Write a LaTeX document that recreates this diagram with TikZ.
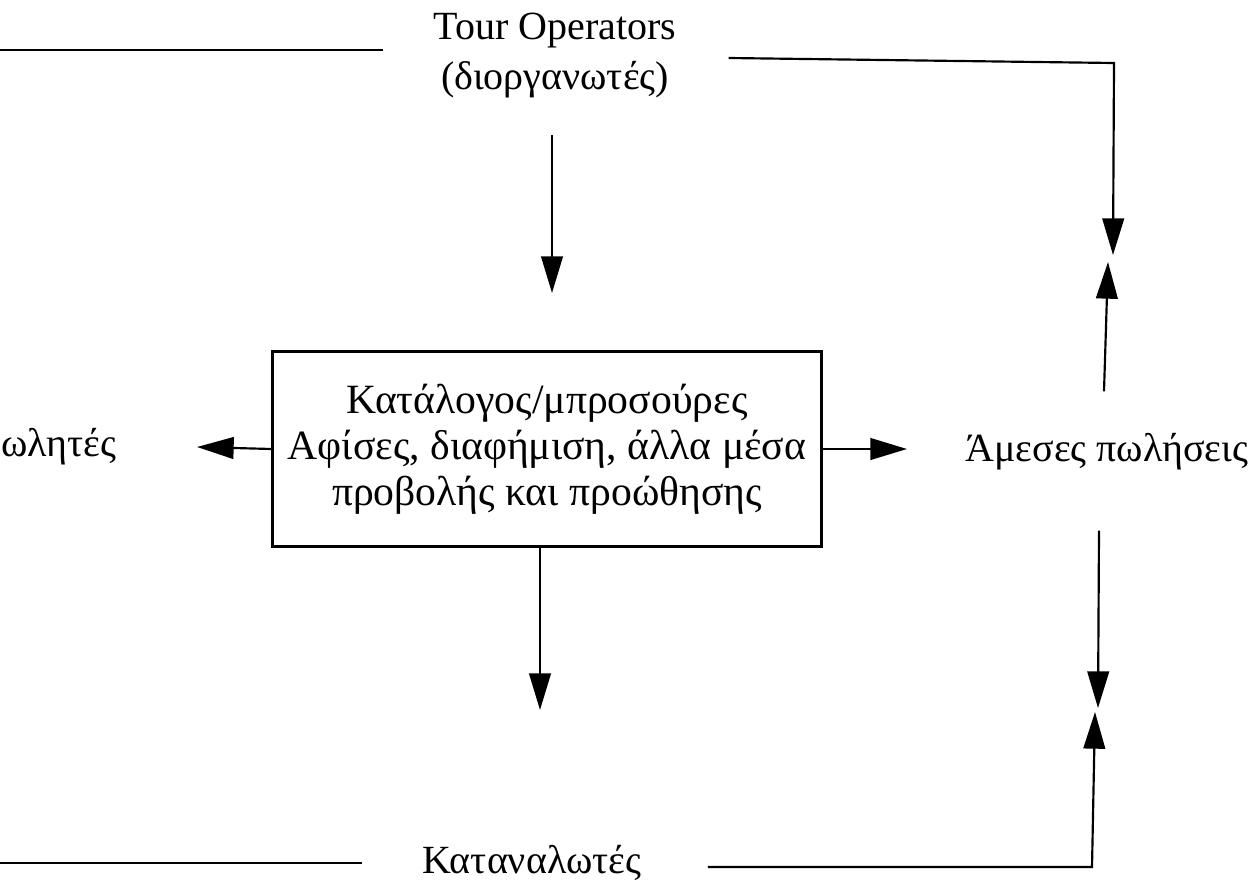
\documentclass[tikz,border=0pt]{standalone}
\usepackage{fontspec}
\setmainfont{Liberation Serif}
\usetikzlibrary{arrows.meta,calc}
\begin{document}
\begin{tikzpicture}[x=0.6pt,y=-0.6pt,
  every node/.style={font=\fontsize{24}{30}\selectfont, inner sep=0pt, align=center},
  link/.style={line width=1.3pt},
  arr/.style={link, -{Triangle[length=22pt,width=13pt]}},
  panel/.style={draw, line width=1.3pt, minimum width=329.4pt, minimum height=117pt}]
\useasboundingbox (0,0) rectangle (1256,886);

% nodes
\node (tour) at (555,56) {Tour Operators\\(διοργανωτές)};
\node[panel, font=\fontsize{25}{27.6}\selectfont] (media) at (547,449)
  {Κατάλογος/μπροσούρες\\Αφίσες, διαφήμιση, άλλα μέσα\\προβολής και προώθησης};
\node[anchor=west] (resell) at (1,447) {ωλητές};
\node[anchor=west] (direct) at (965,452) {Άμεσες πωλήσεις};
\node (cons) at (532,863) {Καταναλωτές};

% free ends at the page border and corners
\coordinate (tl) at (0,50);
\coordinate (bl) at (0,863);
\coordinate (tr) at (1114,63);
\coordinate (br) at (1092,867);

% top row
\draw[link] (tl -| 383,0) -- (tl);
\draw[arr] (tour.east |- 0,58) ++(52,0) -- (tr) -- ($(tr)+(-1,192)$);
\draw[arr] ($(direct.north -| tr)+(-10,-42)$) -- ($(tr)+(-6,199)$);

% central column
\draw[arr] ($(tour.south)+(-3,36)$) -- (552,293);
\draw[arr] ($(media.south)+(-7,0)$) -- (540,710);
\draw[arr] (media.west) -- (197,447);
\draw[arr] (media.east) -- (907,449);

% bottom row
\draw[arr] ($(direct.south -| br)+(7,60)$) -- ($(br)+(6,-159)$);
\draw[arr] (cons.east |- br) ++(66,0) -- (br) -- ($(br)+(3,-155)$);
\draw[link] (bl -| cons.west) ++(-60,0) -- (bl);
\end{tikzpicture}
\end{document}
